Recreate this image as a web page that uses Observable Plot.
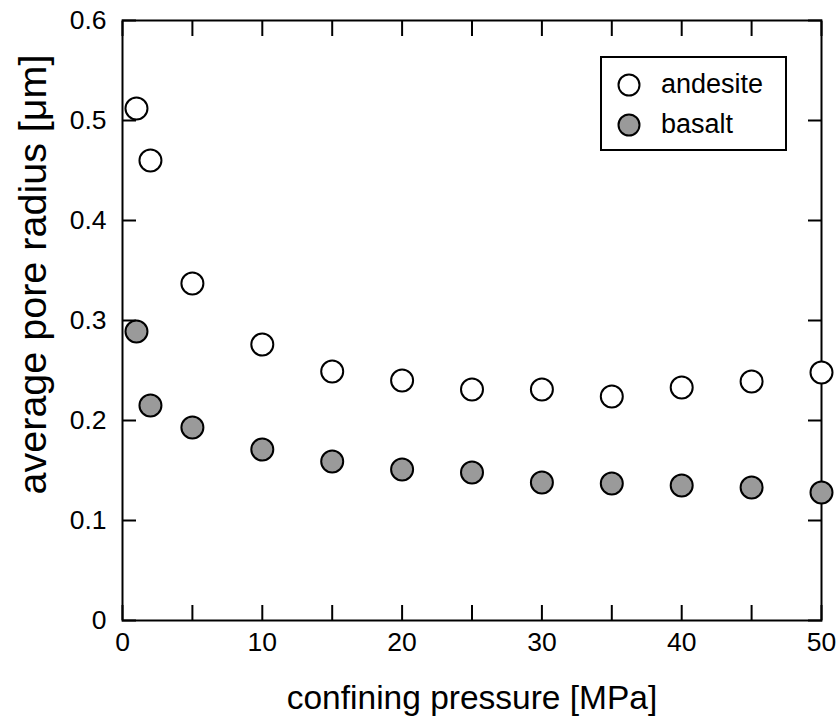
<!DOCTYPE html>
<html>
<head>
<meta charset="utf-8">
<script src="https://cdn.jsdelivr.net/npm/d3@7"></script>
<script src="https://cdn.jsdelivr.net/npm/@observablehq/plot@0.6"></script>
<style>
  body { margin: 0; background: #fff; font-family: "Liberation Sans", Arial, sans-serif; }
  #wrap { position: relative; width: 838px; height: 719px; }
  #legend { position: absolute; left: 600px; top: 56px; width: 183px; height: 91px;
            border: 2px solid #000; background: #fff; box-sizing: content-box; }
  .item { position: absolute; left: 0; display: flex; align-items: center; font-size: 27px; color: #000; }
  .item svg { margin-left: 15px; margin-right: 20px; }
</style>
</head>
<body>
<div id="wrap"></div>
<script>
const pressure = [1, 2, 5, 10, 15, 20, 25, 30, 35, 40, 45, 50];
const andesite = [0.512, 0.460, 0.337, 0.276, 0.249, 0.240, 0.231, 0.231, 0.224, 0.233, 0.239, 0.248];
const basalt   = [0.289, 0.215, 0.193, 0.171, 0.159, 0.151, 0.148, 0.138, 0.137, 0.135, 0.133, 0.128];
const seriesNames = ["andesite", "basalt"];
const seriesFill = ["#ffffff", "#9a9a9a"];
const xTicks = [0, 5, 10, 15, 20, 25, 30, 35, 40, 45, 50];
const xLabels = [0, 10, 20, 30, 40, 50];
const yTicks = [0, 0.1, 0.2, 0.3, 0.4, 0.5, 0.6];
const xTitle = "confining pressure [MPa]";
const yTitle = "average pore radius [μm]";

const rows = [];
pressure.forEach((p, i) => {
  rows.push({p, v: andesite[i], s: seriesNames[0]});
  rows.push({p, v: basalt[i], s: seriesNames[1]});
});

const chart = Plot.plot({
  width: 838,
  height: 719,
  marginLeft: 122,
  marginRight: 17,
  marginTop: 20,
  marginBottom: 99,
  style: {fontFamily: "Liberation Sans, Arial, sans-serif", fontSize: "26.5px", background: "#fff", color: "#000", overflow: "visible"},
  x: {domain: [0, 50]},
  y: {domain: [0, 0.6]},
  color: {domain: seriesNames, range: seriesFill},
  marks: [
    Plot.axisX({anchor: "bottom", ticks: xTicks, tickSize: -15, strokeWidth: 2, tickFormat: () => "", label: null}),
    Plot.axisX({anchor: "top", ticks: xTicks, tickSize: -15, strokeWidth: 2, tickFormat: () => "", label: null}),
    Plot.axisX({anchor: "bottom", ticks: xLabels, tickSize: 0, tickPadding: 12, tickFormat: d => String(d), label: null}),
    Plot.axisY({anchor: "left", ticks: yTicks, tickSize: -14, strokeWidth: 2, tickFormat: () => "", label: null}),
    Plot.axisY({anchor: "right", ticks: yTicks, tickSize: -14, strokeWidth: 2, tickFormat: () => "", label: null}),
    Plot.axisY({anchor: "left", ticks: yTicks, tickSize: 0, tickPadding: 16, tickFormat: d => d === 0 ? "0" : d3.format(".1f")(d), label: null}),
    Plot.frame({stroke: "#000", strokeWidth: 2}),
    Plot.dot(rows, {x: "p", y: "v", fill: "s", r: 11, stroke: "#000", strokeWidth: 2}),
    Plot.text([xTitle], {frameAnchor: "bottom", dy: 88, fontSize: 33.5, lineAnchor: "bottom"}),
    Plot.text([yTitle], {frameAnchor: "left", dx: -89, rotate: -90, textAnchor: "middle", dy: -46, fontSize: 39.5, lineAnchor: "middle"})
  ]
});
const wrap = document.getElementById("wrap");
wrap.appendChild(chart);

const legend = document.createElement("div");
legend.id = "legend";
seriesNames.forEach((name, i) => {
  const item = document.createElement("div");
  item.className = "item";
  item.style.top = (11 + i * 40) + "px";
  item.innerHTML = `<svg width="24" height="24"><circle cx="12" cy="12" r="10.5" fill="${seriesFill[i]}" stroke="#000" stroke-width="2"/></svg><span>${name}</span>`;
  legend.appendChild(item);
});
wrap.appendChild(legend);
</script>
</body>
</html>
